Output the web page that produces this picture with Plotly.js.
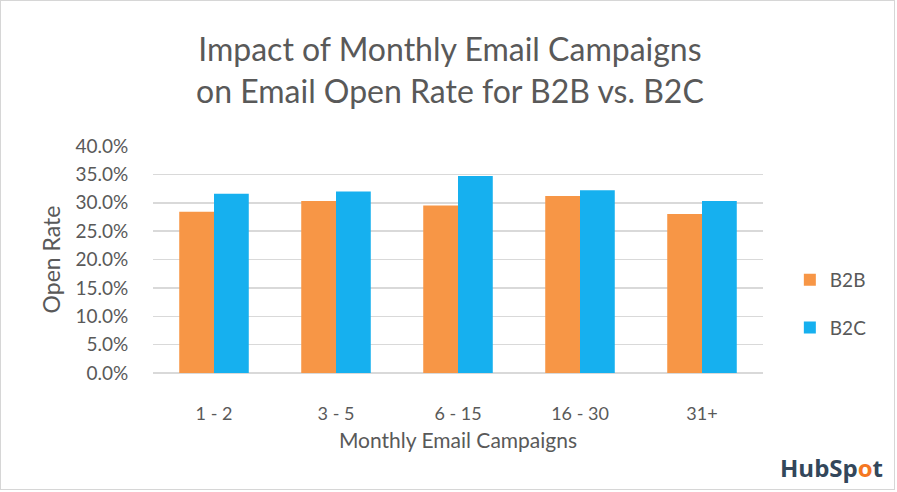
<!DOCTYPE html>
<html><head><meta charset="utf-8">
<script src="https://cdn.plot.ly/plotly-3.0.1.min.js"></script>
<style>
html,body{margin:0;padding:0;background:#fff;}
#frame{position:absolute;left:0;top:0;width:893px;height:488px;border:1px solid #d6d6d6;}
#chart{position:absolute;left:0;top:0;width:897px;height:492px;}
</style></head>
<body>
<div id="chart"></div>
<div id="frame"></div>
<script>
const categories = ["1 - 2", "3 - 5", "6 - 15", "16 - 30", "31+"];
const b2b = [0.284, 0.303, 0.295, 0.312, 0.280];
const b2c = [0.316, 0.320, 0.347, 0.322, 0.303];
const yTicks = [0, 0.05, 0.10, 0.15, 0.20, 0.25, 0.30, 0.35, 0.40];
const titleText = 'Impact of Monthly Email Campaigns<br>on Email Open Rate for B2B vs. B2C';
const FONT = "Lato, 'Open Sans', sans-serif";

const traces = [
  {type:'bar', name:'B2B', x:categories, y:b2b, marker:{color:'#F79646'}, legendgroup:'a'},
  {type:'bar', name:'B2C', x:categories, y:b2c, marker:{color:'#16B0EF'}, legendgroup:'b'}
];
const layout = {
  width:897, height:492,
  paper_bgcolor:'rgba(0,0,0,0)', plot_bgcolor:'#fff',
  margin:{l:153, r:134, t:146, b:119},
  font:{family:FONT, color:'#595959'},
  barmode:'group', bargap:0.43, bargroupgap:0,
  xaxis:{type:'category', tickfont:{size:18, color:'#595959'}, ticks:'outside', ticklen:24,
    tickcolor:'rgba(0,0,0,0)', showline:false, showgrid:false,
    title:{text:'Monthly Email Campaigns', font:{size:21, color:'#595959'}, standoff:10}},
  yaxis:{range:[0,0.4], tickvals:yTicks, tickformat:'.1%', tickfont:{size:19, color:'#595959'},
    ticks:'outside', ticklen:20, tickcolor:'rgba(0,0,0,0)', gridcolor:'#d9d9d9', gridwidth:1.5,
    zeroline:true, zerolinecolor:'#d9d9d9', zerolinewidth:1.5, showline:false,
    title:{text:'Open Rate', font:{size:23, color:'#595959'}, standoff:8}},
  legend:{x:1.044, xanchor:'left', y:0.304, yanchor:'middle', font:{size:19, color:'#595959'},
    traceorder:'grouped', tracegroupgap:20, itemwidth:30},
  annotations:[
    {xref:'paper', yref:'paper', x:0.487, y:1.335, xanchor:'center', yanchor:'middle', showarrow:false,
     text:titleText, font:{family:FONT, size:32, color:'#595959'}},
    {xref:'paper', yref:'paper', x:1.2, y:-0.418, xanchor:'right', yanchor:'middle', showarrow:false,
     text:'<b>HubSp<span style="color:#F57722">o</span>t</b>', font:{family:"'Open Sans', sans-serif", size:24, color:'#33475B'}}
  ]
};
Plotly.newPlot('chart', traces, layout, {displayModeBar:false, staticPlot:true});
</script>
</body></html>
